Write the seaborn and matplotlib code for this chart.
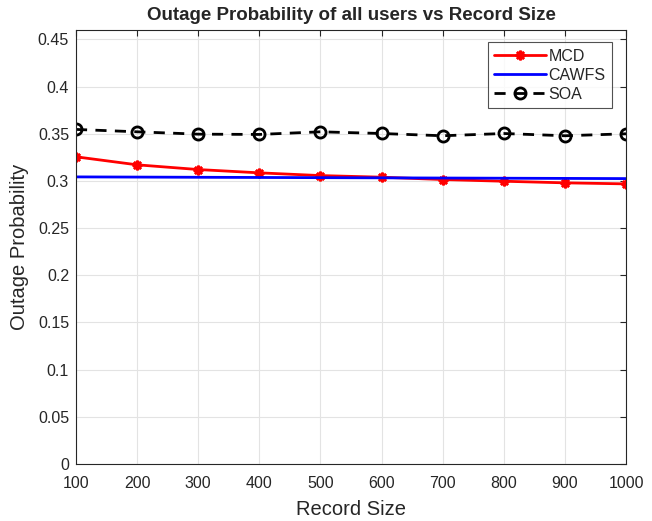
import matplotlib
matplotlib.use("Agg")
import matplotlib.pyplot as plt
import seaborn as sns
import pandas as pd

record_size = [100, 200, 300, 400, 500, 600, 700, 800, 900, 1000]
mcd = [0.3256, 0.3171, 0.3121, 0.3086, 0.3057, 0.3040, 0.3015, 0.2997, 0.2980, 0.2969]
cawfs = [0.3043, 0.3041, 0.3039, 0.3037, 0.3035, 0.3033, 0.3031, 0.3029, 0.3027, 0.3025]
soa = [0.3546, 0.3521, 0.3496, 0.3493, 0.3521, 0.3503, 0.3479, 0.3503, 0.3479, 0.3500]
yticks = [0, 0.05, 0.1, 0.15, 0.2, 0.25, 0.3, 0.35, 0.4, 0.45]
ytick_labels = ["0", "0.05", "0.1", "0.15", "0.2", "0.25", "0.3", "0.35", "0.4", "0.45"]

sns.set_style("white")
plt.rcParams['font.family'] = ['Liberation Sans', 'DejaVu Sans']

df = pd.DataFrame({"x": record_size, "MCD": mcd, "CAWFS": cawfs, "SOA": soa})

fig = plt.figure(figsize=(6.52, 5.21), dpi=100)
ax = fig.add_axes([76/652, 1-464/521, (626-76)/652, (464-30)/521])

sns.lineplot(data=df, x="x", y="MCD", ax=ax, color="#ff0000", lw=2, marker=(8, 2, 0),
             markersize=7, markeredgewidth=1.8, markeredgecolor="#ff0000", label="MCD")
sns.lineplot(data=df, x="x", y="CAWFS", ax=ax, color="#0000ff", lw=2, label="CAWFS")
sns.lineplot(data=df, x="x", y="SOA", ax=ax, color="black", lw=2, linestyle=(0, (4, 3)),
             marker="o", markersize=8, markerfacecolor="none", markeredgewidth=2,
             markeredgecolor="black", label="SOA")

ax.set_xlim(100, 1000)
ax.set_ylim(0, 0.46)
ax.set_xticks(record_size)
ax.set_yticks(yticks)
ax.set_yticklabels(ytick_labels)
ax.grid(True, color="#e3e3e3", lw=0.8)
ax.tick_params(direction="in", length=4, colors="#262626", labelsize=11.5, top=True, right=True,
               labelcolor="#262626")
ax.tick_params(axis="x", pad=9)
ax.tick_params(axis="y", pad=5)
for s in ax.spines.values():
    s.set_color("#262626")
    s.set_linewidth(0.8)
ax.set_xlabel("Record Size", fontsize=14.5, color="#262626", labelpad=6)
ax.set_ylabel("Outage Probability", fontsize=14.5, color="#262626", labelpad=6)
ax.set_title("Outage Probability of all users vs Record Size", fontsize=13.5, fontweight="bold", pad=7)

leg = ax.legend(loc="upper right", bbox_to_anchor=(0.975, 0.972), borderaxespad=0, fontsize=11.5,
                frameon=True, fancybox=False, edgecolor="#262626", handlelength=3.2, borderpad=0.4,
                labelspacing=0.25, handletextpad=0.2)
leg.get_frame().set_linewidth(0.8)

fig.savefig("out.png", dpi=100)
